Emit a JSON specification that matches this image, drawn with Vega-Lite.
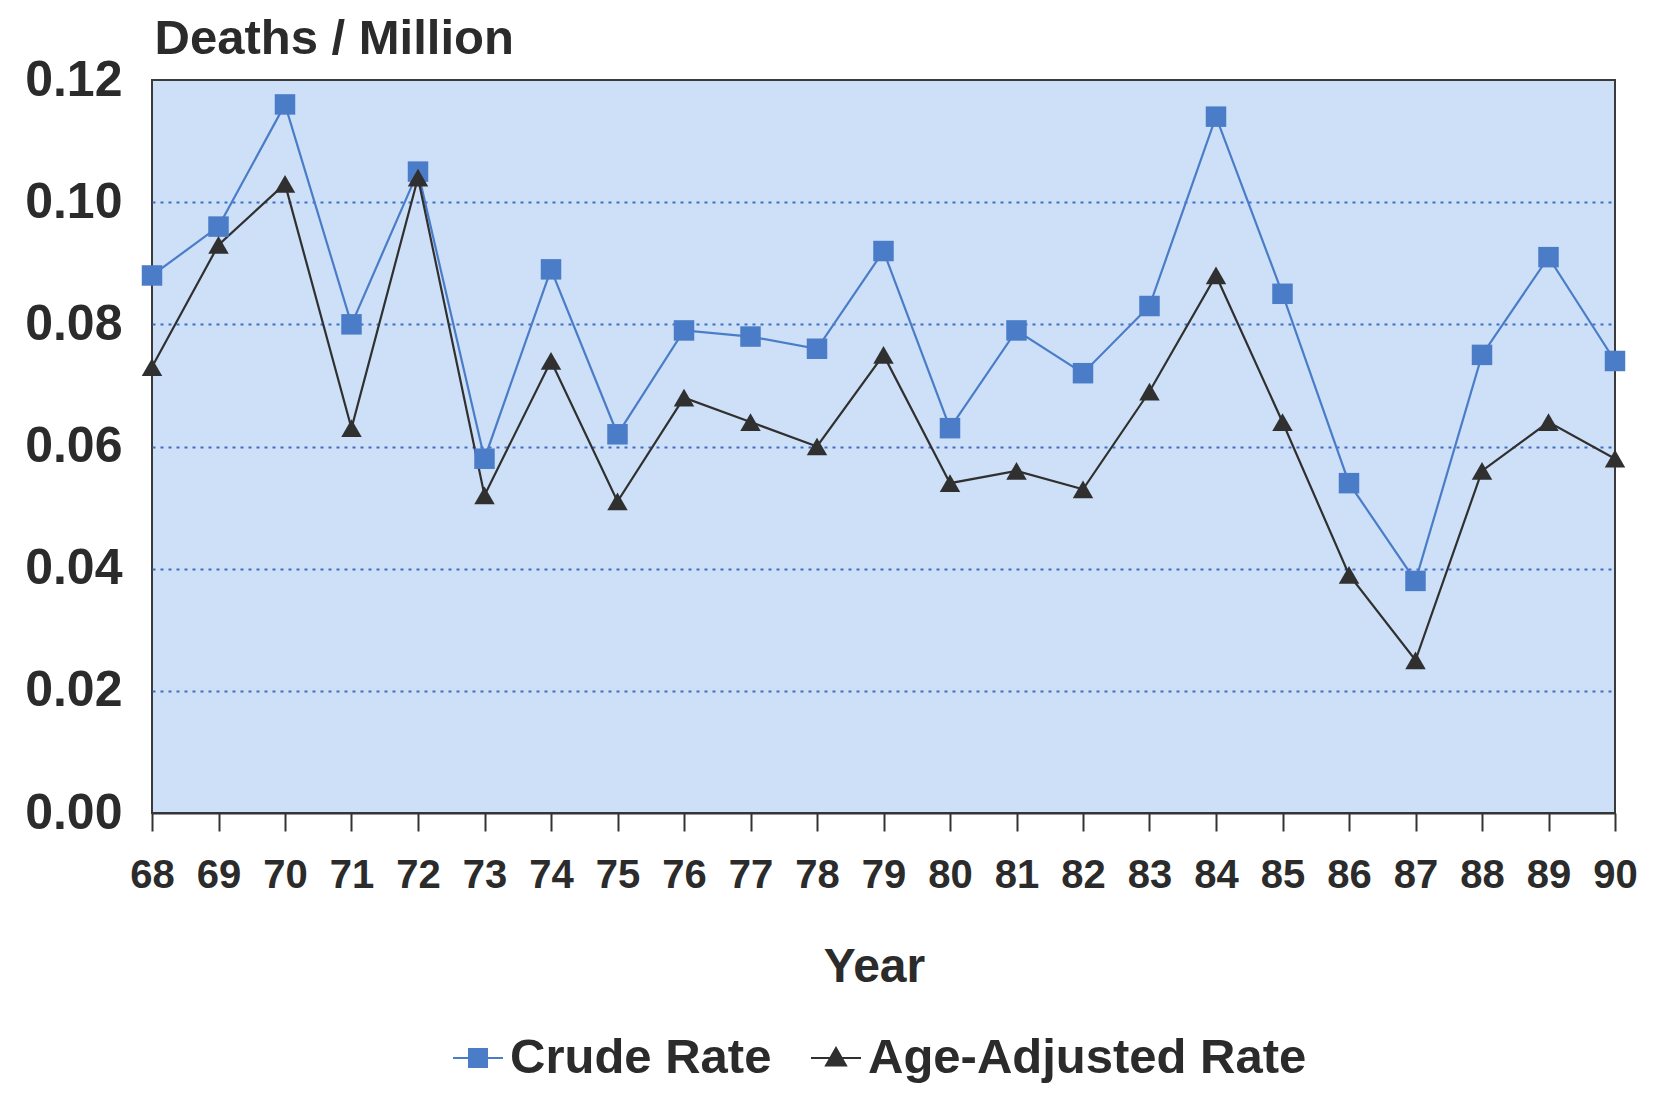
{
  "$schema": "https://vega.github.io/schema/vega-lite/v6.json",
  "width": 1463,
  "height": 733,
  "autosize": {"type": "none"},
  "padding": {"left": 152, "top": 80, "right": 51, "bottom": 280},
  "background": "white",
  "config": {
    "font": "Liberation Sans",
    "view": {"fill": "#cde0f7", "stroke": "#3a3a3a", "strokeWidth": 2}
  },
  "data": {
    "values": [
      {"year": 68, "series": "Crude Rate", "rate": 0.088},
      {"year": 69, "series": "Crude Rate", "rate": 0.096},
      {"year": 70, "series": "Crude Rate", "rate": 0.116},
      {"year": 71, "series": "Crude Rate", "rate": 0.080},
      {"year": 72, "series": "Crude Rate", "rate": 0.105},
      {"year": 73, "series": "Crude Rate", "rate": 0.058},
      {"year": 74, "series": "Crude Rate", "rate": 0.089},
      {"year": 75, "series": "Crude Rate", "rate": 0.062},
      {"year": 76, "series": "Crude Rate", "rate": 0.079},
      {"year": 77, "series": "Crude Rate", "rate": 0.078},
      {"year": 78, "series": "Crude Rate", "rate": 0.076},
      {"year": 79, "series": "Crude Rate", "rate": 0.092},
      {"year": 80, "series": "Crude Rate", "rate": 0.063},
      {"year": 81, "series": "Crude Rate", "rate": 0.079},
      {"year": 82, "series": "Crude Rate", "rate": 0.072},
      {"year": 83, "series": "Crude Rate", "rate": 0.083},
      {"year": 84, "series": "Crude Rate", "rate": 0.114},
      {"year": 85, "series": "Crude Rate", "rate": 0.085},
      {"year": 86, "series": "Crude Rate", "rate": 0.054},
      {"year": 87, "series": "Crude Rate", "rate": 0.038},
      {"year": 88, "series": "Crude Rate", "rate": 0.075},
      {"year": 89, "series": "Crude Rate", "rate": 0.091},
      {"year": 90, "series": "Crude Rate", "rate": 0.074},
      {"year": 68, "series": "Age-Adjusted Rate", "rate": 0.073},
      {"year": 69, "series": "Age-Adjusted Rate", "rate": 0.093},
      {"year": 70, "series": "Age-Adjusted Rate", "rate": 0.103},
      {"year": 71, "series": "Age-Adjusted Rate", "rate": 0.063},
      {"year": 72, "series": "Age-Adjusted Rate", "rate": 0.104},
      {"year": 73, "series": "Age-Adjusted Rate", "rate": 0.052},
      {"year": 74, "series": "Age-Adjusted Rate", "rate": 0.074},
      {"year": 75, "series": "Age-Adjusted Rate", "rate": 0.051},
      {"year": 76, "series": "Age-Adjusted Rate", "rate": 0.068},
      {"year": 77, "series": "Age-Adjusted Rate", "rate": 0.064},
      {"year": 78, "series": "Age-Adjusted Rate", "rate": 0.060},
      {"year": 79, "series": "Age-Adjusted Rate", "rate": 0.075},
      {"year": 80, "series": "Age-Adjusted Rate", "rate": 0.054},
      {"year": 81, "series": "Age-Adjusted Rate", "rate": 0.056},
      {"year": 82, "series": "Age-Adjusted Rate", "rate": 0.053},
      {"year": 83, "series": "Age-Adjusted Rate", "rate": 0.069},
      {"year": 84, "series": "Age-Adjusted Rate", "rate": 0.088},
      {"year": 85, "series": "Age-Adjusted Rate", "rate": 0.064},
      {"year": 86, "series": "Age-Adjusted Rate", "rate": 0.039},
      {"year": 87, "series": "Age-Adjusted Rate", "rate": 0.025},
      {"year": 88, "series": "Age-Adjusted Rate", "rate": 0.056},
      {"year": 89, "series": "Age-Adjusted Rate", "rate": 0.064},
      {"year": 90, "series": "Age-Adjusted Rate", "rate": 0.058}
    ]
  },
  "encoding": {
    "x": {
      "field": "year",
      "type": "quantitative",
      "scale": {"domain": [68, 90], "nice": false, "zero": false},
      "axis": {
        "title": "Year",
        "values": [68, 69, 70, 71, 72, 73, 74, 75, 76, 77, 78, 79, 80, 81, 82, 83, 84, 85, 86, 87, 88, 89, 90],
        "format": "d",
        "grid": false,
        "tickSize": 18,
        "tickColor": "#333333",
        "tickWidth": 2,
        "domainColor": "#333333",
        "domainWidth": 2,
        "labelFontSize": 40,
        "labelFontWeight": "bold",
        "labelColor": "#2b2b2b",
        "labelPadding": 24,
        "labelFlush": false,
        "labelOverlap": false,
        "titleFontSize": 48,
        "titleFontWeight": "bold",
        "titleColor": "#2b2b2b",
        "titlePadding": 48,
        "titleX": 722,
        "titleAlign": "center"
      }
    },
    "y": {
      "field": "rate",
      "type": "quantitative",
      "scale": {"domain": [0, 0.12], "nice": false},
      "axis": {
        "title": "Deaths / Million",
        "values": [0, 0.02, 0.04, 0.06, 0.08, 0.1, 0.12],
        "format": ".2f",
        "ticks": false,
        "domain": false,
        "labelFontSize": 50,
        "labelFontWeight": "bold",
        "labelColor": "#2b2b2b",
        "labelPadding": 30,
        "grid": true,
        "gridColor": "#3f6fc4",
        "gridDash": [3, 5],
        "gridWidth": 2,
        "gridOpacity": {"condition": {"test": "datum.value > 0.11 || datum.value < 0.01", "value": 0}, "value": 1},
        "titleAngle": 0,
        "titleAlign": "left",
        "titleBaseline": "alphabetic",
        "titleX": 2,
        "titleY": -27,
        "titleFontSize": 49,
        "titleFontWeight": "bold",
        "titleColor": "#2b2b2b"
      }
    }
  },
  "resolve": {"legend": {"color": "independent", "shape": "independent"}},
  "layer": [
    {
      "mark": {"type": "line", "strokeWidth": 2.2},
      "encoding": {
        "color": {
          "field": "series",
          "type": "nominal",
          "scale": {"domain": ["Crude Rate", "Age-Adjusted Rate"], "range": ["#4a7cc8", "#303030"]},
          "legend": {
            "orient": "none",
            "legendX": 300,
            "legendY": 952,
            "direction": "horizontal",
            "title": null,
            "labelFontSize": 49,
            "labelFontWeight": "bold",
            "labelColor": "#2b2b2b",
            "labelLimit": 600,
            "symbolSize": 2500,
            "labelOffset": 6,
            "columnPadding": 35,
            "symbolStrokeWidth": 2,
            "encode": {
              "symbols": {
                "update": {
                  "shape": {"signal": "datum.value === 'Crude Rate' ? 'M-1,0H1M-0.36,-0.36H0.36V0.36H-0.36Z' : 'M-1,0H1M0,-0.4L0.4,0.3H-0.4Z'"},
                  "size": {"value": 2500},
                  "fill": {"signal": "datum.value === 'Crude Rate' ? '#4a7cc8' : '#303030'"},
                  "stroke": {"signal": "datum.value === 'Crude Rate' ? '#4a7cc8' : '#303030'"},
                  "strokeWidth": {"value": 2},
                  "opacity": {"value": 1}
                }
              }
            }
          }
        }
      }
    },
    {
      "mark": {"type": "point", "filled": true, "opacity": 1, "size": 420},
      "encoding": {
        "color": {
          "field": "series",
          "type": "nominal",
          "legend": null
        },
        "shape": {
          "field": "series",
          "type": "nominal",
          "scale": {"domain": ["Crude Rate", "Age-Adjusted Rate"], "range": ["square", "triangle-up"]},
          "legend": null
        }
      }
    }
  ]
}
